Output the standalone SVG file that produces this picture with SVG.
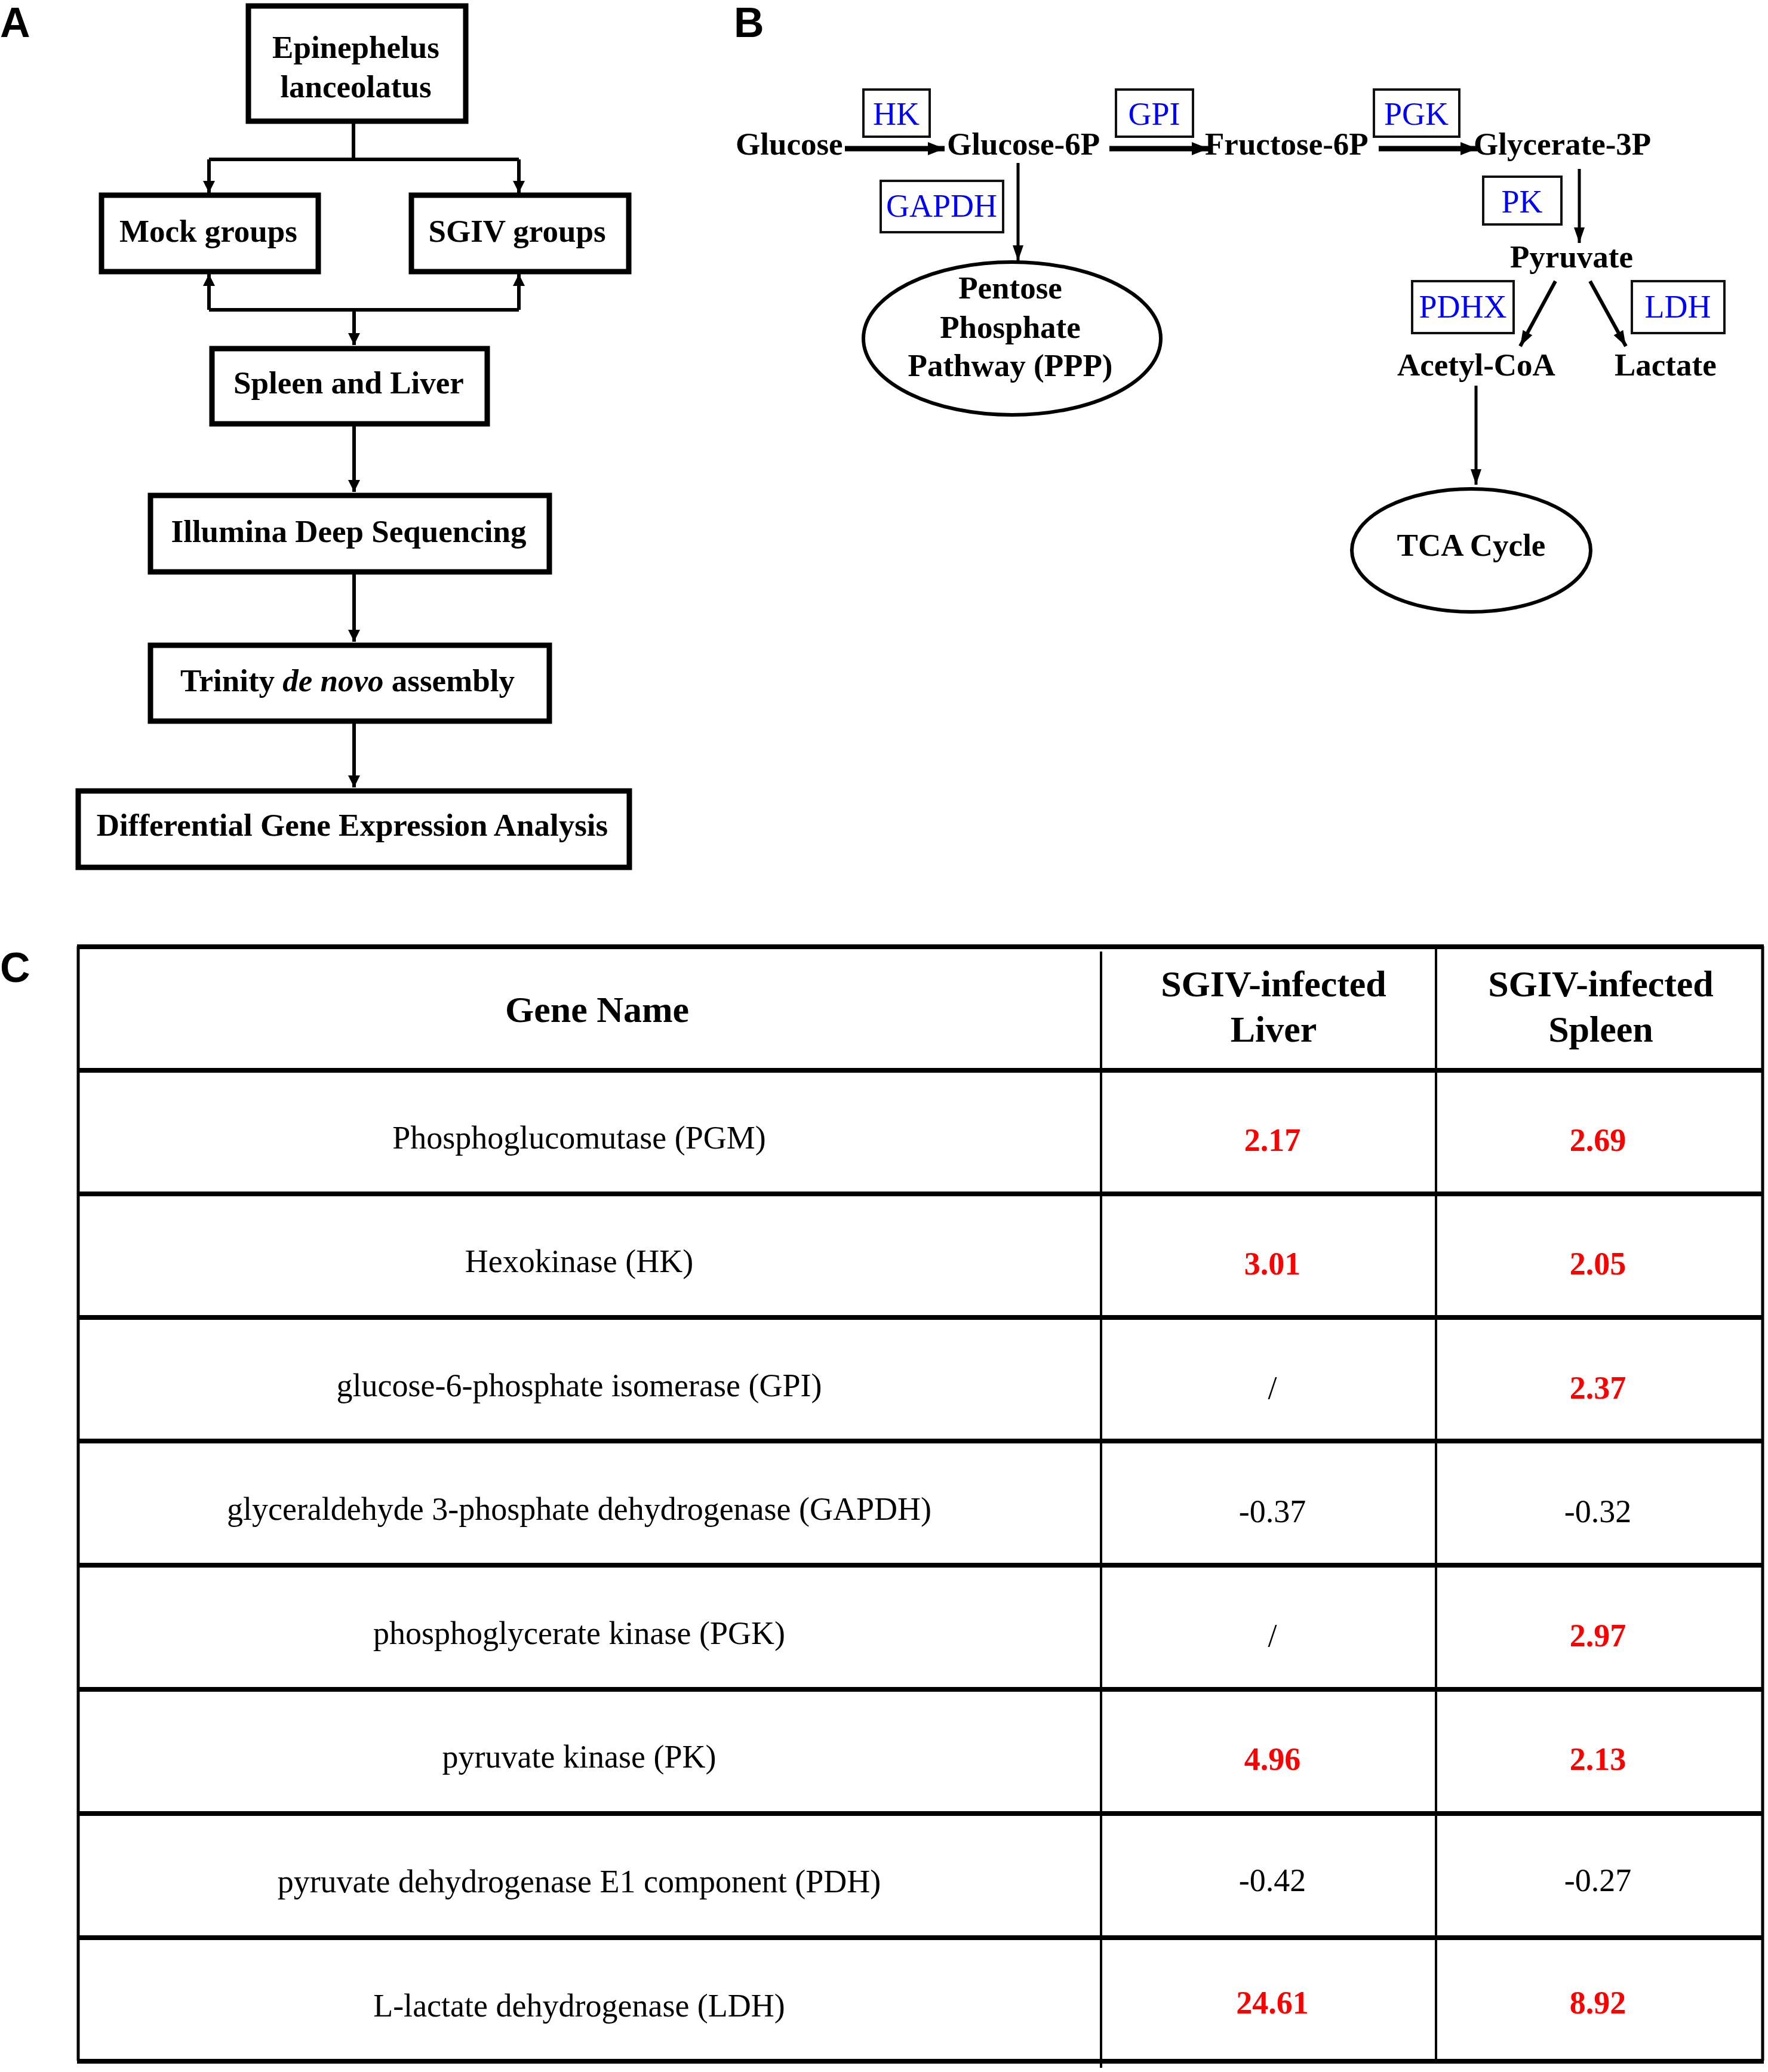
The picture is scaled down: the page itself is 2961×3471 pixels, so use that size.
<svg xmlns="http://www.w3.org/2000/svg" width="2961" height="3471" viewBox="0 0 2961 3471">
<defs>
<style>
.lbl{font-family:"Liberation Sans",Arial,sans-serif;font-weight:bold;font-size:70px;fill:#000}
.bt{font-family:"Liberation Serif","Times New Roman",serif;font-weight:bold;font-size:53px;fill:#000}
.bl{font-family:"Liberation Serif","Times New Roman",serif;font-size:54px;fill:#0000ff;text-anchor:middle}
.boxA{fill:#fff;stroke:#000;stroke-width:9}
.boxB{fill:none;stroke:#111;stroke-width:4}
.ell{fill:none;stroke:#000;stroke-width:6}
.conA{fill:none;stroke:#000;stroke-width:6}
.hz{fill:none;stroke:#000;stroke-width:9}
.vt{fill:none;stroke:#000;stroke-width:5}
.tl{stroke:#000;stroke-width:8}
.tv{stroke:#000;stroke-width:4}
.gn{font-family:"Liberation Serif","Times New Roman",serif;font-size:54px;fill:#000;text-anchor:middle}
.hd{font-family:"Liberation Serif","Times New Roman",serif;font-weight:bold;font-size:62px;fill:#000;text-anchor:middle}
.rv{font-family:"Liberation Serif","Times New Roman",serif;font-weight:bold;font-size:54px;fill:#ff0000;text-anchor:middle}
.kv{font-family:"Liberation Serif","Times New Roman",serif;font-size:54px;fill:#000;text-anchor:middle}
.c{text-anchor:middle}
</style>
<marker id="ahA" markerUnits="userSpaceOnUse" markerWidth="20" markerHeight="22" refX="20" refY="10" orient="auto"><path d="M0,0 L20,10 L0,20 Z" fill="#000"/></marker>
<marker id="ahB" markerUnits="userSpaceOnUse" markerWidth="28" markerHeight="24" refX="28" refY="12" orient="auto"><path d="M0,1 L28,12 L0,23 Z" fill="#000"/></marker>
<marker id="ahV" markerUnits="userSpaceOnUse" markerWidth="26" markerHeight="20" refX="26" refY="10" orient="auto"><path d="M0,1 L26,10 L0,19 Z" fill="#000"/></marker>
</defs>
<rect width="2961" height="3471" fill="#fff"/>

<text class="lbl" x="0" y="62">A</text>
<text class="lbl" x="1229" y="62">B</text>
<text class="lbl" x="0" y="1645">C</text>

<g id="connectors">
<path class="conA" d="M592,207 V267"/>
<path class="conA" d="M350,267 H869"/>
<path class="conA" d="M350,267 V323" marker-end="url(#ahA)"/>
<path class="conA" d="M869,267 V323" marker-end="url(#ahA)"/>
<path class="conA" d="M350,519 H869"/>
<path class="conA" d="M350,519 V459" marker-end="url(#ahA)"/>
<path class="conA" d="M869,519 V459" marker-end="url(#ahA)"/>
<path class="conA" d="M593,519 V578" marker-end="url(#ahA)"/>
<path class="conA" d="M593,714 V824" marker-end="url(#ahA)"/>
<path class="conA" d="M593,962 V1075" marker-end="url(#ahA)"/>
<path class="conA" d="M593,1212 V1319" marker-end="url(#ahA)"/>

<path class="hz" d="M1415,249 H1582" marker-end="url(#ahB)"/>
<path class="hz" d="M1858,249 H2024" marker-end="url(#ahB)"/>
<path class="hz" d="M2309,249 H2474" marker-end="url(#ahB)"/>
<path class="vt" d="M1705,273 V437" marker-end="url(#ahV)"/>
<path class="vt" d="M2645,283 V407" marker-end="url(#ahV)"/>
<path class="vt" d="M2605,471 L2546,580" marker-end="url(#ahV)" style="stroke-width:6"/>
<path class="vt" d="M2663,471 L2723,580" marker-end="url(#ahV)" style="stroke-width:6"/>
<path class="vt" d="M2472,646 V812" marker-end="url(#ahV)"/>
</g>

<g id="node-epinephelus"><rect class="boxA" x="416" y="10" width="364" height="193"/><text class="bt c" x="596" y="97">Epinephelus</text><text class="bt c" x="596" y="163">lanceolatus</text></g>
<g id="node-mock"><rect class="boxA" x="170" y="327" width="363" height="128"/><text class="bt c" x="349" y="405">Mock groups</text></g>
<g id="node-sgiv"><rect class="boxA" x="689" y="327" width="364" height="128"/><text class="bt c" x="866" y="405">SGIV groups</text></g>
<g id="node-spleen"><rect class="boxA" x="355" y="584" width="461" height="126"/><text class="bt c" x="584" y="659">Spleen and Liver</text></g>
<g id="node-illumina"><rect class="boxA" x="252" y="830" width="668" height="128"/><text class="bt c" x="584" y="908">Illumina Deep Sequencing</text></g>
<g id="node-trinity"><rect class="boxA" x="252" y="1081" width="668" height="127"/><text class="bt c" x="582" y="1158">Trinity <tspan font-style="italic">de novo</tspan> assembly</text></g>
<g id="node-dge"><rect class="boxA" x="131" y="1325" width="923" height="128"/><text class="bt c" x="590" y="1400">Differential Gene Expression Analysis</text></g>

<g id="node-glucose"><text class="bt" x="1232" y="259">Glucose</text></g>
<g id="node-g6p"><text class="bt" x="1586" y="259">Glucose-6P</text></g>
<g id="node-f6p"><text class="bt" x="2018" y="259">Fructose-6P</text></g>
<g id="node-g3p"><text class="bt" x="2468" y="259">Glycerate-3P</text></g>
<g id="node-pyruvate"><text class="bt" x="2529" y="448">Pyruvate</text></g>
<g id="node-acetyl"><text class="bt" x="2340" y="629">Acetyl-CoA</text></g>
<g id="node-lactate"><text class="bt" x="2704" y="629">Lactate</text></g>
<g id="node-ppp"><ellipse class="ell" cx="1695" cy="567" rx="249" ry="128"/><text class="bt c" x="1692" y="500">Pentose</text><text class="bt c" x="1692" y="566">Phosphate</text><text class="bt c" x="1692" y="630">Pathway (PPP)</text></g>
<g id="node-tca"><ellipse class="ell" cx="2464" cy="922" rx="200" ry="103"/><text class="bt c" x="2464" y="931">TCA Cycle</text></g>

<g id="enz-hk"><rect class="boxB" x="1446" y="150" width="111" height="79"/><text class="bl" x="1501" y="209">HK</text></g>
<g id="enz-gpi"><rect class="boxB" x="1869" y="150" width="129" height="79"/><text class="bl" x="1933" y="209">GPI</text></g>
<g id="enz-pgk"><rect class="boxB" x="2301" y="150" width="143" height="79"/><text class="bl" x="2372" y="209">PGK</text></g>
<g id="enz-gapdh"><rect class="boxB" x="1475" y="303" width="205" height="86"/><text class="bl" x="1577" y="363">GAPDH</text></g>
<g id="enz-pk"><rect class="boxB" x="2484" y="296" width="131" height="80"/><text class="bl" x="2549" y="356">PK</text></g>
<g id="enz-pdhx"><rect class="boxB" x="2365" y="471" width="170" height="87"/><text class="bl" x="2450" y="532">PDHX</text></g>
<g id="enz-ldh"><rect class="boxB" x="2733" y="471" width="155" height="87"/><text class="bl" x="2810" y="532">LDH</text></g>

<g id="table">
<line class="tv" x1="131" y1="1585" x2="131" y2="3452" style="stroke-width:5"/>
<line class="tv" x1="1844" y1="1594" x2="1844" y2="3464"/>
<line class="tv" x1="2405" y1="1585" x2="2405" y2="3452"/>
<line class="tv" x1="2952" y1="1585" x2="2952" y2="3452" style="stroke-width:5"/>
<line class="tl" x1="129" y1="1586" x2="2954" y2="1586"/>
<line class="tl" x1="129" y1="1793" x2="2954" y2="1793"/>
<line class="tl" x1="129" y1="2000" x2="2954" y2="2000"/>
<line class="tl" x1="129" y1="2207" x2="2954" y2="2207"/>
<line class="tl" x1="129" y1="2414" x2="2954" y2="2414"/>
<line class="tl" x1="129" y1="2622" x2="2954" y2="2622"/>
<line class="tl" x1="129" y1="2830" x2="2954" y2="2830"/>
<line class="tl" x1="129" y1="3038" x2="2954" y2="3038"/>
<line class="tl" x1="129" y1="3246" x2="2954" y2="3246"/>
<line class="tl" x1="129" y1="3453" x2="2954" y2="3453"/>

<text class="hd" x="1000" y="1712">Gene Name</text>
<text class="hd" x="2133" y="1669">SGIV-infected</text><text class="hd" x="2133" y="1745">Liver</text>
<text class="hd" x="2681" y="1669">SGIV-infected</text><text class="hd" x="2681" y="1745">Spleen</text>

<text class="gn" x="970" y="1924">Phosphoglucomutase (PGM)</text>
<text class="rv" x="2131" y="1928">2.17</text><text class="rv" x="2676" y="1928">2.69</text>

<text class="gn" x="970" y="2131">Hexokinase (HK)</text>
<text class="rv" x="2131" y="2135">3.01</text><text class="rv" x="2676" y="2135">2.05</text>

<text class="gn" x="970" y="2339">glucose-6-phosphate isomerase (GPI)</text>
<text class="kv" x="2131" y="2343">/</text><text class="rv" x="2676" y="2343">2.37</text>

<text class="gn" x="970" y="2546">glyceraldehyde 3-phosphate dehydrogenase (GAPDH)</text>
<text class="kv" x="2131" y="2550">-0.37</text><text class="kv" x="2676" y="2550">-0.32</text>

<text class="gn" x="970" y="2754">phosphoglycerate kinase (PGK)</text>
<text class="kv" x="2131" y="2758">/</text><text class="rv" x="2676" y="2758">2.97</text>

<text class="gn" x="970" y="2961">pyruvate kinase (PK)</text>
<text class="rv" x="2131" y="2965">4.96</text><text class="rv" x="2676" y="2965">2.13</text>

<text class="gn" x="970" y="3170">pyruvate dehydrogenase E1 component (PDH)</text>
<text class="kv" x="2131" y="3168">-0.42</text><text class="kv" x="2676" y="3168">-0.27</text>

<text class="gn" x="970" y="3378">L-lactate dehydrogenase (LDH)</text>
<text class="rv" x="2131" y="3373">24.61</text><text class="rv" x="2676" y="3373">8.92</text>
</g>
</svg>
